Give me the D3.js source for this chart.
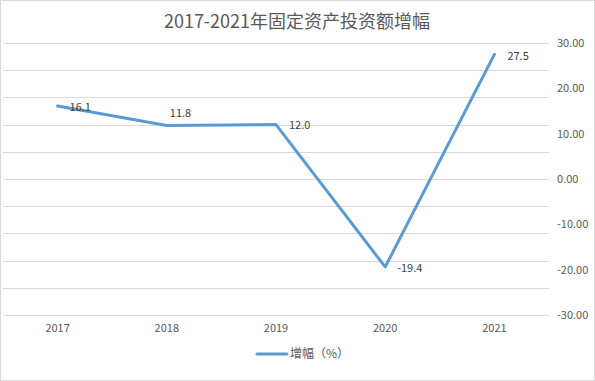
<!DOCTYPE html>
<html>

<head>
    <meta charset="UTF-8">
    <title>2017-2021年固定资产投资额增幅</title>
    <style>
        body { margin: 0; background: #fff; }
        svg { display: block; font-family: "Noto Sans CJK SC", "Noto Sans", sans-serif; }
    </style>
</head>

<body>
    <svg></svg>
    <script src="https://d3js.org/d3.v7.min.js"></script>
    <script>
        // data
        const years = ["2017", "2018", "2019", "2020", "2021"];
        const growth = [16.1, 11.8, 12.0, -19.4, 27.5];
        const axisTicks = [30, 20, 10, 0, -10, -20, -30];
        const gridTicks = [30, 24, 18, 12, 6, 0, -6, -12, -18, -24, -30];
        const seriesName = "增幅（%）";
        const chartTitle = "2017-2021年固定资产投资额增幅";

        // label offsets (dx, dy of text centre from the point)
        const labelOffset = [[12, 1], [3, -12], [13, 1], [12, 1], [13, 2]];

        // plain hyphen as minus sign, like the original
        const fmt = d3.formatLocale({ decimal: ".", thousands: ",", grouping: [3], currency: ["", ""], minus: "-" });

        let width = 595, height = 381;
        let svg = d3.select("svg").attr("width", width).attr("height", height);

        svg.append("rect")
            .attr("x", 0.5).attr("y", 0.5)
            .attr("width", width - 1).attr("height", height - 1)
            .attr("fill", "#fff")
            .attr("stroke", "#d9d9d9");

        // title
        svg.append("text")
            .attr("x", 297).attr("y", 28)
            .attr("text-anchor", "middle")
            .attr("font-size", 18)
            .attr("fill", "#595959")
            .text(chartTitle);

        const x = d3.scaleBand().domain(years).range([3, 549]);
        const y = d3.scaleLinear().domain([-30, 30]).range([315, 43]);

        // gridlines
        svg.append("g")
            .selectAll("line")
            .data(gridTicks)
            .join("line")
            .attr("x1", 3).attr("x2", 549)
            .attr("y1", d => Math.round(y(d)) + 0.5)
            .attr("y2", d => Math.round(y(d)) + 0.5)
            .attr("stroke", "#d9d9d9")
            .attr("stroke-width", 1);

        // right axis labels
        const yAxis = d3.axisRight(y)
            .tickValues(axisTicks)
            .tickFormat(fmt.format(".2f"))
            .tickSize(0)
            .tickPadding(8);
        const gy = svg.append("g")
            .attr("transform", "translate(549,0)")
            .call(yAxis);
        gy.select(".domain").remove();
        gy.selectAll("text")
            .attr("font-size", 11)
            .attr("font-family", "\"Noto Sans CJK SC\", sans-serif")
            .attr("fill", "#595959");

        // category axis
        const xAxis = d3.axisBottom(x).tickSize(0).tickPadding(9);
        const gx = svg.append("g")
            .attr("transform", "translate(0,315)")
            .call(xAxis);
        gx.select(".domain").remove();
        gx.selectAll("text")
            .attr("font-size", 11)
            .attr("font-family", "\"Noto Sans CJK SC\", sans-serif")
            .attr("fill", "#595959");

        // line
        const line = d3.line()
            .x((d, i) => x(years[i]) + x.bandwidth() / 2)
            .y(d => y(d));

        svg.append("path")
            .datum(growth)
            .attr("d", line)
            .attr("fill", "none")
            .attr("stroke", "#5b9bd5")
            .attr("stroke-width", 3)
            .attr("stroke-linejoin", "round")
            .attr("stroke-linecap", "round");

        // data labels
        svg.append("g")
            .selectAll("text")
            .data(growth)
            .join("text")
            .attr("x", (d, i) => x(years[i]) + x.bandwidth() / 2 + labelOffset[i][0])
            .attr("y", (d, i) => y(d) + labelOffset[i][1])
            .attr("dy", "0.35em")
            .attr("font-size", 11)
            .attr("fill", "#404040")
            .text(d => fmt.format(".1f")(d));

        // legend
        const legend = svg.append("g").attr("transform", "translate(257,354)");
        legend.append("line")
            .attr("x1", 0).attr("x2", 30)
            .attr("stroke", "#5b9bd5")
            .attr("stroke-width", 3)
            .attr("stroke-linecap", "round");
        legend.append("text")
            .attr("x", 33).attr("dy", "0.35em")
            .attr("font-size", 12)
            .attr("fill", "#595959")
            .text(seriesName);
    </script>
</body>

</html>
